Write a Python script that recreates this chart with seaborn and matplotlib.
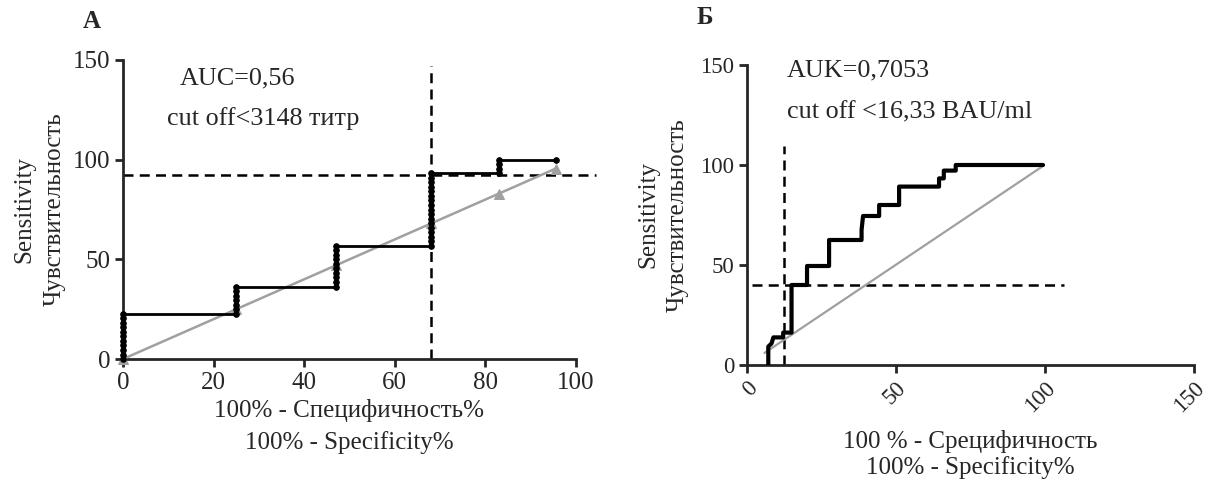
import matplotlib
matplotlib.use("Agg")
import matplotlib.pyplot as plt
import seaborn as sns
import pandas as pd

# ---------------- data: panel A ----------------
a_fpr = [0, 0, 0, 0, 0, 0, 0, 0, 0, 0, 0,
         25, 25, 25, 25, 25, 25, 25,
         47, 47, 47, 47, 47, 47, 47, 47, 47, 47,
         68, 68, 68, 68, 68, 68, 68, 68, 68, 68, 68, 68, 68, 68, 68, 68, 68,
         83, 83, 83, 83,
         95.5]
a_tpr = [0, 2.27, 4.55, 6.82, 9.09, 11.36, 13.64, 15.91, 18.18, 20.45, 22.73,
         22.73, 25.0, 27.27, 29.55, 31.82, 34.09, 36.36,
         36.36, 38.64, 40.91, 43.18, 45.45, 47.73, 50.0, 52.27, 54.55, 56.82,
         56.82, 59.09, 61.36, 63.64, 65.91, 68.18, 70.45, 72.73, 75.0, 77.27,
         79.55, 81.82, 84.09, 86.36, 88.64, 90.91, 93.18,
         93.18, 95.45, 97.73, 100,
         100]
a_ref = [0, 25, 47, 68, 83, 95.5]
a_cut_x = 68
a_cut_y = 92.5
a_xticks = [0, 20, 40, 60, 80, 100]
a_yticks = [0, 50, 100, 150]

# ---------------- data: panel Б ----------------
b_fpr = [7.3, 7.3, 8.4, 9.0, 12.3, 12.3, 15.1, 15.1, 20.3, 20.3, 27.7, 27.7,
         38.6, 38.6, 39.1, 44.5, 44.5, 51.2, 51.2, 64.6, 64.6, 66.2, 66.2,
         70.2, 70.2, 99.5]
b_tpr = [0, 9.2, 10.8, 13.8, 13.8, 16.2, 16.2, 40, 40, 49.5, 49.5, 62.5,
         62.5, 67.5, 74.5, 74.5, 80, 80, 89.2, 89.2, 93.3, 93.3, 97.2,
         97.2, 100, 100]
b_ref = [6, 99.5]
b_cut_x = 12.5
b_cut_y = 40
b_ticks = [0, 50, 100, 150]

sns.set_style("ticks")
plt.rcParams['font.family'] = ['Liberation Serif', 'DejaVu Serif']
plt.rcParams['axes.linewidth'] = 2.0
plt.rcParams['xtick.major.width'] = 2.0
plt.rcParams['ytick.major.width'] = 2.0
plt.rcParams['xtick.major.size'] = 6
plt.rcParams['ytick.major.size'] = 6

fig = plt.figure(figsize=(12.08, 4.8), dpi=100)
ax1 = fig.add_axes([0.1018, 0.252, 0.375, 0.623])
ax2 = fig.add_axes([0.618, 0.2396, 0.370, 0.625])

lab_fs = 18
ann_fs = 18.8
tick_fs = 18

# ---- panel A ----
dfa = pd.DataFrame({"x": a_fpr, "y": a_tpr})
dfr = pd.DataFrame({"x": a_ref, "y": a_ref})
sns.lineplot(data=dfr, x="x", y="y", ax=ax1, sort=False, estimator=None,
             color="#a0a0a0", lw=1.8, marker="^", markersize=7,
             markeredgecolor="#a0a0a0", clip_on=False, zorder=3)
sns.lineplot(data=dfa, x="x", y="y", ax=ax1, sort=False, estimator=None,
             color="black", lw=2.0, marker="o", markersize=4,
             markeredgecolor="black", clip_on=False, zorder=4)
ax1.plot([0, 104.5], [a_cut_y, a_cut_y], ls=(0, (4, 2.5)), color="black",
         lw=1.8, clip_on=False)
ax1.plot([a_cut_x, a_cut_x], [0, 147], ls=(0, (4, 2.5)), color="black",
         lw=1.8, clip_on=False)
ax1.set_xlim(0, 100)
ax1.set_ylim(0, 150)
ax1.set_xticks(a_xticks)
ax1.set_yticks(a_yticks)
ax1.tick_params(labelsize=tick_fs, pad=3)
sns.despine(ax=ax1)
ax1.set_xlabel("100% - Специфичность%\n100% - Specificity%", fontsize=lab_fs,
               linespacing=1.5, labelpad=4)
ax1.set_ylabel("Sensitivity\nЧувствительность", fontsize=lab_fs,
               linespacing=1.5, labelpad=5)
ax1.text(12.6, 140.5, "AUC=0,56", fontsize=ann_fs, va="center", ha="left")
ax1.text(9.7, 120.5, "cut off<3148 титр", fontsize=ann_fs, va="center", ha="left")
fig.text(92 / 1208, 1 - 22 / 480, "А", fontsize=18, fontweight="bold",
         ha="center", va="center")

# ---- panel Б ----
dfb = pd.DataFrame({"x": b_fpr, "y": b_tpr})
dfbr = pd.DataFrame({"x": b_ref, "y": b_ref})
sns.lineplot(data=dfbr, x="x", y="y", ax=ax2, sort=False, estimator=None,
             color="#a0a0a0", lw=1.6, zorder=3)
sns.lineplot(data=dfb, x="x", y="y", ax=ax2, sort=False, estimator=None,
             color="black", lw=3.0, zorder=4)
ax2.plot([1.8, 106.5], [b_cut_y, b_cut_y], ls=(0, (4, 2.5)), color="black",
         lw=1.8, clip_on=False)
ax2.plot([b_cut_x, b_cut_x], [0, 109.5], ls=(0, (4, 2.5)), color="black",
         lw=1.8, clip_on=False)
ax2.set_xlim(0, 150)
ax2.set_ylim(0, 150)
ax2.set_xticks(b_ticks)
ax2.set_yticks(b_ticks)
ax2.tick_params(labelsize=16.5, pad=3)
for lbl in ax2.get_xticklabels():
    lbl.set_rotation(45)
    lbl.set_ha("right")
    lbl.set_va("top")
    lbl.set_rotation_mode("anchor")
sns.despine(ax=ax2)
ax2.set_xlabel("100 % - Срецифичность\n100% - Specificity%", fontsize=lab_fs,
               linespacing=1.15, labelpad=10)
ax2.set_ylabel("Sensitivity\nЧувствительность", fontsize=lab_fs,
               linespacing=1.45, labelpad=8)
ax2.text(13.5, 147.5, "AUK=0,7053", fontsize=ann_fs, va="center", ha="left")
ax2.text(13.5, 126.5, "cut off <16,33 BAU/ml", fontsize=ann_fs, va="center", ha="left")
fig.text(705 / 1208, 1 - 18 / 480, "Б", fontsize=18, fontweight="bold",
         ha="center", va="center")

ax1.set_facecolor("white")
ax2.set_facecolor("white")
fig.savefig("out.png", dpi=100, facecolor="white")
